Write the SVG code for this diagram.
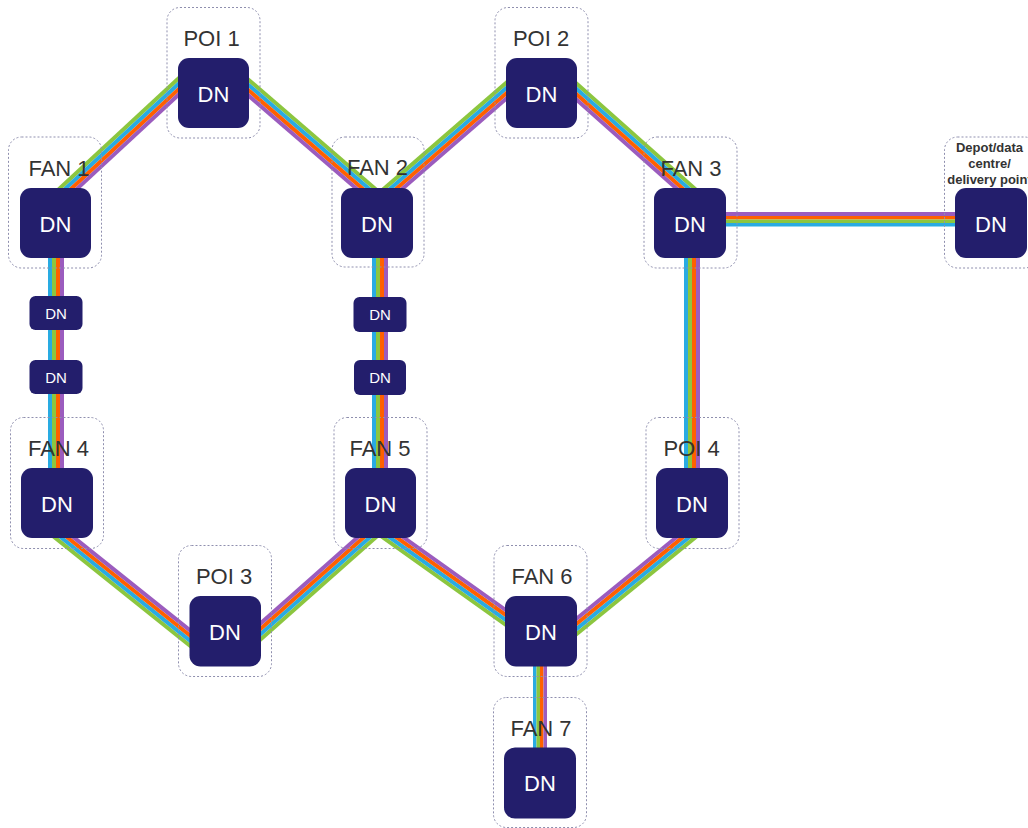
<svg xmlns="http://www.w3.org/2000/svg" xmlns:xlink="http://www.w3.org/1999/xlink" width="1028" height="828" viewBox="0 0 1028 828">
<style>
.box{fill:none;stroke:#8f8fae;stroke-width:1;stroke-dasharray:2 2}
.dn{fill:#231e6c}
.lbl{font-family:"Liberation Sans",Arial,sans-serif;font-size:22px;fill:#333;text-anchor:middle}
.dnt{font-family:"Liberation Sans",Arial,sans-serif;font-size:22px;fill:#fff;text-anchor:middle}
.sdnt{font-family:"Liberation Sans",Arial,sans-serif;font-size:15px;fill:#fff;text-anchor:middle}
.dep{font-family:"Liberation Sans",Arial,sans-serif;font-size:13px;font-weight:bold;fill:#333;text-anchor:middle}
.g{fill:#8cc63f}.b{fill:#29abe2}.o{fill:#ff6000}.p{fill:#9b5cbe}
</style>
<defs>
<g id="bundle">
<rect class="g" x="0" y="-8" width="1" height="4"/>
<rect class="b" x="0" y="-4" width="1" height="4"/>
<rect class="o" x="0" y="0" width="1" height="4"/>
<rect class="p" x="0" y="4" width="1" height="4"/>
</g>
</defs>
<g id="connectors">
<use xlink:href="#bundle" href="#bundle" transform="translate(60.2,196.2) rotate(-42.82) scale(172.6,1)"/>
<use xlink:href="#bundle" href="#bundle" transform="translate(239.9,80.2) rotate(40.76) scale(177.2,1)"/>
<use xlink:href="#bundle" href="#bundle" transform="translate(384.9,195.9) rotate(-40.9) scale(172.2,1)"/>
<use xlink:href="#bundle" href="#bundle" transform="translate(568,84) rotate(41.63) scale(168.5,1)"/>
<use xlink:href="#bundle" href="#bundle" transform="translate(55.6,530.5) rotate(38.66) scale(184.1,-1)"/>
<use xlink:href="#bundle" href="#bundle" transform="translate(252,639) rotate(-41.53) scale(164.3,-1)"/>
<use xlink:href="#bundle" href="#bundle" transform="translate(384.2,531) rotate(35.44) scale(160.2,-1)"/>
<use xlink:href="#bundle" href="#bundle" transform="translate(567.7,633.6) rotate(-39.17) scale(163.3,-1)"/>
<g id="v-fan1-fan4">
<rect class="b" x="48" y="250" width="4" height="225"/>
<rect class="g" x="52" y="250" width="4" height="225"/>
<rect class="o" x="56" y="250" width="4" height="225"/>
<rect class="p" x="60" y="250" width="4" height="225"/>
</g>
<g id="v-fan2-fan5">
<rect class="b" x="372" y="250" width="4" height="225"/>
<rect class="g" x="376" y="250" width="4" height="225"/>
<rect class="o" x="380" y="250" width="4" height="225"/>
<rect class="p" x="384" y="250" width="4" height="225"/>
</g>
<g id="v-fan3-poi4">
<rect class="b" x="684" y="250" width="4" height="225"/>
<rect class="g" x="688" y="250" width="4" height="225"/>
<rect class="o" x="692" y="250" width="4" height="225"/>
<rect class="p" x="696" y="250" width="4" height="225"/>
</g>
<g id="v-fan6-fan7">
<rect class="b" x="533" y="655" width="3.5" height="100"/>
<rect class="g" x="536.5" y="655" width="3.5" height="100"/>
<rect class="o" x="540" y="655" width="3.5" height="100"/>
<rect class="p" x="543.5" y="655" width="3.5" height="100"/>
</g>
<g id="h-fan3-depot">
<rect class="p" x="715" y="212" width="250" height="4"/>
<rect class="o" x="715" y="216" width="250" height="3.5"/>
<rect class="g" x="715" y="219.5" width="250" height="3.5"/>
<rect class="b" x="715" y="223" width="250" height="3.5"/>
</g>
</g>
<g id="poi1"><rect class="box" x="167" y="7.5" width="93" height="130.5" rx="13"/><rect class="dn" x="178" y="58" width="71" height="70" rx="11"/><text class="dnt" x="213.5" y="101.5">DN</text><text class="lbl" x="211.5" y="46">POI 1</text></g>
<g id="poi2"><rect class="box" x="495" y="7.5" width="93" height="130.5" rx="13"/><rect class="dn" x="506" y="58" width="71" height="70" rx="11"/><text class="dnt" x="541.5" y="101.5">DN</text><text class="lbl" x="541" y="46">POI 2</text></g>
<g id="fan1"><rect class="box" x="8.5" y="137" width="93" height="131" rx="13"/><rect class="dn" x="20" y="188" width="71" height="70" rx="11"/><text class="dnt" x="55.5" y="231.5">DN</text><text class="lbl" x="59" y="176">FAN 1</text></g>
<g id="fan2"><rect class="box" x="332" y="137" width="92" height="130" rx="13"/><rect class="dn" x="341" y="188" width="72" height="70" rx="11"/><text class="dnt" x="377" y="231.5">DN</text><text class="lbl" x="377.5" y="175">FAN 2</text></g>
<g id="fan3"><rect class="box" x="644" y="137" width="93" height="131" rx="13"/><rect class="dn" x="654" y="188" width="72" height="70" rx="11"/><text class="dnt" x="690" y="231.5">DN</text><text class="lbl" x="691" y="176">FAN 3</text></g>
<g id="depot"><rect class="box" x="944.5" y="137" width="93" height="131" rx="13"/><rect class="dn" x="955" y="188" width="72" height="70" rx="11"/><text class="dnt" x="991" y="231.5">DN</text><text class="dep" x="989.5" y="152">Depot/data</text><text class="dep" x="989.5" y="168">centre/</text><text class="dep" x="989.5" y="184">delivery point</text></g>
<g id="dn-a1"><rect class="dn" x="29.5" y="296" width="53" height="34" rx="6"/><text class="sdnt" x="56" y="318.5">DN</text></g>
<g id="dn-a2"><rect class="dn" x="29.5" y="360" width="53" height="34" rx="6"/><text class="sdnt" x="56" y="382.5">DN</text></g>
<g id="dn-b1"><rect class="dn" x="353.5" y="297" width="53" height="35" rx="6"/><text class="sdnt" x="380" y="320">DN</text></g>
<g id="dn-b2"><rect class="dn" x="354" y="360" width="52" height="35" rx="6"/><text class="sdnt" x="380" y="383">DN</text></g>
<g id="fan4"><rect class="box" x="10.5" y="417.5" width="93" height="131" rx="13"/><rect class="dn" x="21" y="468" width="72" height="70" rx="11"/><text class="dnt" x="57" y="511.5">DN</text><text class="lbl" x="58.5" y="456">FAN 4</text></g>
<g id="fan5"><rect class="box" x="334" y="417.5" width="93" height="131" rx="13"/><rect class="dn" x="345" y="468" width="71" height="70" rx="11"/><text class="dnt" x="380.5" y="511.5">DN</text><text class="lbl" x="380" y="456">FAN 5</text></g>
<g id="poi4"><rect class="box" x="646" y="417.5" width="93" height="131" rx="13"/><rect class="dn" x="656" y="468" width="72" height="70" rx="11"/><text class="dnt" x="692" y="511.5">DN</text><text class="lbl" x="691.5" y="456">POI 4</text></g>
<g id="poi3"><rect class="box" x="178.5" y="545.5" width="93" height="131" rx="13"/><rect class="dn" x="189.5" y="596" width="71.5" height="70.5" rx="11"/><text class="dnt" x="225" y="639.5">DN</text><text class="lbl" x="224" y="584">POI 3</text></g>
<g id="fan6"><rect class="box" x="494" y="545.5" width="93" height="131" rx="13"/><rect class="dn" x="505" y="596" width="72" height="70.5" rx="11"/><text class="dnt" x="541" y="639.5">DN</text><text class="lbl" x="542" y="584">FAN 6</text></g>
<g id="fan7"><rect class="box" x="493.5" y="697.5" width="93" height="130" rx="13"/><rect class="dn" x="504" y="747.5" width="72" height="71" rx="11"/><text class="dnt" x="540" y="791">DN</text><text class="lbl" x="541" y="736">FAN 7</text></g>
</svg>
